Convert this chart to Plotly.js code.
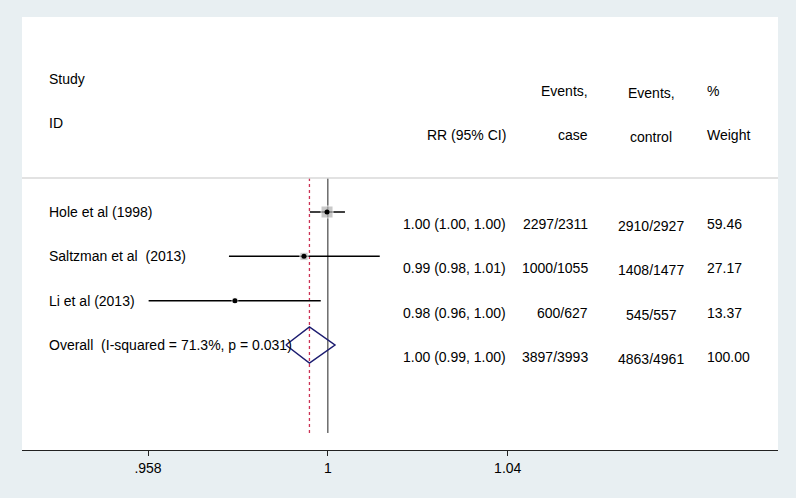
<!DOCTYPE html>
<html>
<head>
<meta charset="utf-8">
<script src="https://cdn.plot.ly/plotly-3.0.1.min.js"></script>
<style>html,body{margin:0;padding:0;background:#e8eff2;}#chart{width:796px;height:498px;}</style>
</head>
<body>
<div id="chart"></div>
<script>
// ---- data ----
const studies = ["Hole et al (1998)", "Saltzman et al  (2013)", "Li et al (2013)"];
const rr      = [0.9998, 0.9943, 0.978];
const rrLow   = [0.9957, 0.9766, 0.958];
const rrHigh  = [1.0041, 1.0125, 0.9983];
const caseEvents = ["2297/2311", "1000/1055", "600/627"];
const ctrlEvents = ["2910/2927", "1408/1477", "545/557"];
const weights = [59.46, 27.17, 13.37];

const overallLabel = "Overall  (I-squared = 71.3%, p = 0.031)";
const overallRR = 0.9956, overallLow = 0.990, overallHigh = 1.0017;
const overallCase = "3897/3993", overallCtrl = "4863/4961", overallWeight = 100.00;

const tickVals = [1/1.044, 1, 1.044];
const tickText = [".958", "1", "1.04"];

// ---- build ----
const FONT = "Liberation Sans, Arial, sans-serif";
const traces = [];
const rows = studies.map((s, i) => i);
const overallRow = studies.length;

// reference lines
traces.push({x:[1,1], y:[-0.767, 4.985], mode:'lines', line:{color:'#222', width:1}, hoverinfo:'skip'});
traces.push({x:[overallRR, overallRR], y:[-0.767, 4.985], mode:'lines', line:{color:'#cc3355', width:1.3, dash:'3px,3px'}, hoverinfo:'skip'});

// CI lines
studies.forEach((s, i) => {
  traces.push({x:[rrLow[i], rrHigh[i]], y:[i, i], mode:'lines', line:{color:'#000', width:1.5}, hoverinfo:'skip'});
});
// weight squares
traces.push({x:rr, y:rows, mode:'markers', marker:{symbol:'square', color:'#b3b3b3', size:weights.map(w => 12*Math.sqrt(w/weights[0]))}, hoverinfo:'skip'});
// point estimates
traces.push({x:rr, y:rows, mode:'markers', marker:{symbol:'circle', color:'#000', size:5}, hoverinfo:'skip'});
// overall diamond
const dh = 0.41;
traces.push({x:[overallLow, overallRR, overallHigh, overallRR, overallLow],
             y:[overallRow, overallRow-dh, overallRow, overallRow+dh, overallRow],
             mode:'lines', line:{color:'#1c1c70', width:1.5}, hoverinfo:'skip'});

const fmt = v => v.toFixed(2);
const ann = [];
function txt(text, x, y, anchor, yshift) {
  ann.push({text:text, x:x, y:y, xref:'paper', yref:'y', xanchor:anchor, yanchor:'middle',
            yshift:yshift||0, showarrow:false, font:{family:FONT, size:14, color:'#000'}});
}
const X_LABEL = 0.0325, X_RR = 0.6425, X_CASE = 0.7515, X_CTRL = 0.8325, X_W = 0.9035;

// headers
txt("Study", X_LABEL, -3, 'left');
txt("ID", X_LABEL, -2, 'left');
txt("RR (95% CI)", X_RR, -2, 'right', -12);
txt("Events,", X_CASE, -3, 'right', -12);
txt("case", X_CASE, -2, 'right', -12);
txt("Events,", X_CTRL, -3, 'center', -14);
txt("control", X_CTRL, -2, 'center', -14);
txt("%", X_W, -3, 'left', -12);
txt("Weight", X_W, -2, 'left', -12);

// study rows
studies.forEach((s, i) => {
  txt(s, X_LABEL, i, 'left');
  txt(fmt(rr[i]) + " (" + fmt(rrLow[i]) + ", " + fmt(rrHigh[i]) + ")", X_RR, i, 'right', -12);
  txt(caseEvents[i], X_CASE, i, 'right', -12);
  txt(ctrlEvents[i], X_CTRL, i, 'center', -14);
  txt(fmt(weights[i]), X_W, i, 'left', -12);
});
// overall row
txt(overallLabel.replace(/ /g, '\u00a0'), X_LABEL, overallRow, 'left');
txt(fmt(overallRR) + " (" + fmt(overallLow) + ", " + fmt(overallHigh) + ")", X_RR, overallRow, 'right', -12);
txt(overallCase, X_CASE, overallRow, 'right', -12);
txt(overallCtrl, X_CTRL, overallRow, 'center', -14);
txt(fmt(overallWeight), X_W, overallRow, 'left', -12);

const layout = {
  width:796, height:498,
  margin:{l:22, r:18, t:17, b:48},
  paper_bgcolor:'#e8eff2', plot_bgcolor:'#ffffff',
  showlegend:false,
  xaxis:{type:'log', range:[-0.0318, 0.0468], tickmode:'array', tickvals:tickVals, ticktext:tickText,
         showgrid:false, zeroline:false, showline:true, linecolor:'#222', linewidth:1,
         ticks:'outside', ticklen:5, tickcolor:'#222', tickfont:{family:FONT, size:14, color:'#000'}, fixedrange:true},
  yaxis:{range:[5.369, -4.399], visible:false, fixedrange:true},
  shapes:[{type:'line', xref:'paper', yref:'y', x0:0, x1:1, y0:-0.767, y1:-0.767, line:{color:'#d8d8d8', width:1.5}}],
  annotations:ann
};
Plotly.newPlot('chart', traces, layout, {displayModeBar:false, staticPlot:true});
</script>
</body>
</html>
